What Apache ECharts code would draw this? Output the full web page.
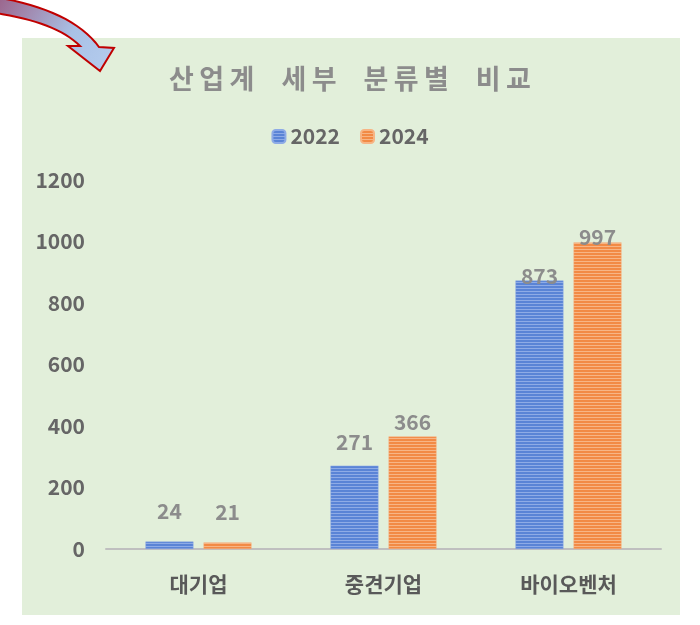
<!DOCTYPE html>
<html>
<head>
<meta charset="utf-8">
<script src="https://cdn.jsdelivr.net/npm/echarts@6/dist/echarts.min.js"></script>
<style>
  html, body { margin: 0; padding: 0; background: #fff; }
  #chartmain { width: 700px; height: 625px; }
</style>
</head>
<body>
<div id="chartmain"></div>
<script>
var cate = ['대기업', '중견기업', '바이오벤처'];
var years = ['2022', '2024'];
var val2022 = [24, 271, 873];
var val2024 = [21, 366, 997];
var yTicks = [0, 200, 400, 600, 800, 1000, 1200];

// 데이터 레이블 간격 (원본 엑셀 차트에서 수동 배치된 위치)
var labelGap2022 = [20, 13, -6];
var labelGap2024 = [20, 4, -5];

// 가로 줄무늬 패턴
function stripe(base, line) {
	var c = document.createElement('canvas');
	c.width = 4;
	c.height = 3;
	var ctx = c.getContext('2d');
	ctx.fillStyle = base;
	ctx.fillRect(0, 0, 4, 3);
	ctx.fillStyle = line;
	ctx.fillRect(0, 0, 4, 1);
	return { image: c, repeat: 'repeat' };
}

// 장식용 곡선 화살표 외곽선 (2차 베지어 근사)
function quad(p0, p1, p2, n) {
	var pts = [];
	for (var i = 0; i <= n; i++) {
		var t = i / n, u = 1 - t;
		pts.push([u * u * p0[0] + 2 * u * t * p1[0] + t * t * p2[0],
				u * u * p0[1] + 2 * u * t * p1[1] + t * t * p2[1]]);
	}
	return pts;
}
var arrowPts = quad([-5, -3], [72, 10], [99, 47], 16)
		.concat([[114, 48], [100, 71], [68, 46]])
		.concat(quad([80, 46], [56, 22], [-5, 13], 16));

var blue = stripe('#5a84d6', '#8eabe6');
var orange = stripe('#f28a45', '#f7b585');
var font = '"Noto Sans CJK KR", "Noto Sans", sans-serif';
var title = '산업계 세부 분류별 비교'.split(' ').map(function(w) {
	return w.split('').join('\u2009');
}).join('\u2003');

function withGap(vals, gaps) {
	return vals.map(function(v, i) {
		return { value : v, label : { distance : gaps[i] } };
	});
}

var labelStyle = {
	show : true,
	position : 'top',
	fontFamily : font,
	fontSize : 21,
	fontWeight : 'bold',
	color : '#8c8c8c'
};

var option = {
	backgroundColor : '#ffffff',
	textStyle : { fontFamily : font },
	graphic : [ {
		type : 'rect',
		z : -10,
		silent : true,
		shape : { x : 22, y : 38, width : 658, height : 577 },
		style : { fill : '#e2efda' }
	}, {
		type : 'polygon',
		z : 10,
		silent : true,
		shape : { points : arrowPts },
		style : {
			fill : new echarts.graphic.LinearGradient(0, 0, 1, 1, [
				{ offset : 0, color : '#9a5f86' },
				{ offset : 0.6, color : '#a9c1e6' },
				{ offset : 1, color : '#b5cdee' }
			]),
			stroke : '#c00000',
			lineWidth : 2
		}
	} ],
	title : {
		text : title,
		left : 'center',
		top : 60,
		textStyle : {
			fontFamily : font,
			fontSize : 27,
			fontWeight : 'bold',
			color : '#8c8c8c'
		}
	},
	legend : {
		top : 121,
		left : 'center',
		itemWidth : 13,
		itemHeight : 13,
		itemGap : 20,
		data : years,
		textStyle : {
			fontFamily : font,
			fontSize : 21,
			fontWeight : 'bold',
			color : '#666666'
		}
	},
	grid : {
		left : 106,
		right : 39,
		top : 180,
		bottom : 76
	},
	xAxis : {
		type : 'category',
		data : cate,
		axisTick : { show : false },
		axisLine : { lineStyle : { color : '#bfbfbf', width : 2 } },
		axisLabel : {
			margin : 25,
			fontFamily : font,
			fontSize : 21,
			fontWeight : 'bold',
			color : '#595959'
		}
	},
	yAxis : {
		type : 'value',
		min : yTicks[0],
		max : yTicks[yTicks.length - 1],
		interval : 200,
		splitLine : { show : false },
		axisLine : { show : false },
		axisTick : { show : false },
		axisLabel : {
			margin : 21,
			fontFamily : font,
			fontSize : 21,
			fontWeight : 'bold',
			color : '#666666',
			formatter : function(v) { return String(v); }
		}
	},
	series : [ {
		name : years[0],
		type : 'bar',
		data : withGap(val2022, labelGap2022),
		barWidth : 48,
		barGap : '21%',
		itemStyle : { color : blue, borderColor : '#8eabe6', borderWidth : 0.5 },
		label : labelStyle
	}, {
		name : years[1],
		type : 'bar',
		data : withGap(val2024, labelGap2024),
		barWidth : 48,
		barGap : '21%',
		itemStyle : { color : orange, borderColor : '#f7b585', borderWidth : 0.5 },
		label : labelStyle
	} ]
};

var myChart = echarts.init(document.getElementById('chartmain'));
myChart.setOption(option);
</script>
</body>
</html>
